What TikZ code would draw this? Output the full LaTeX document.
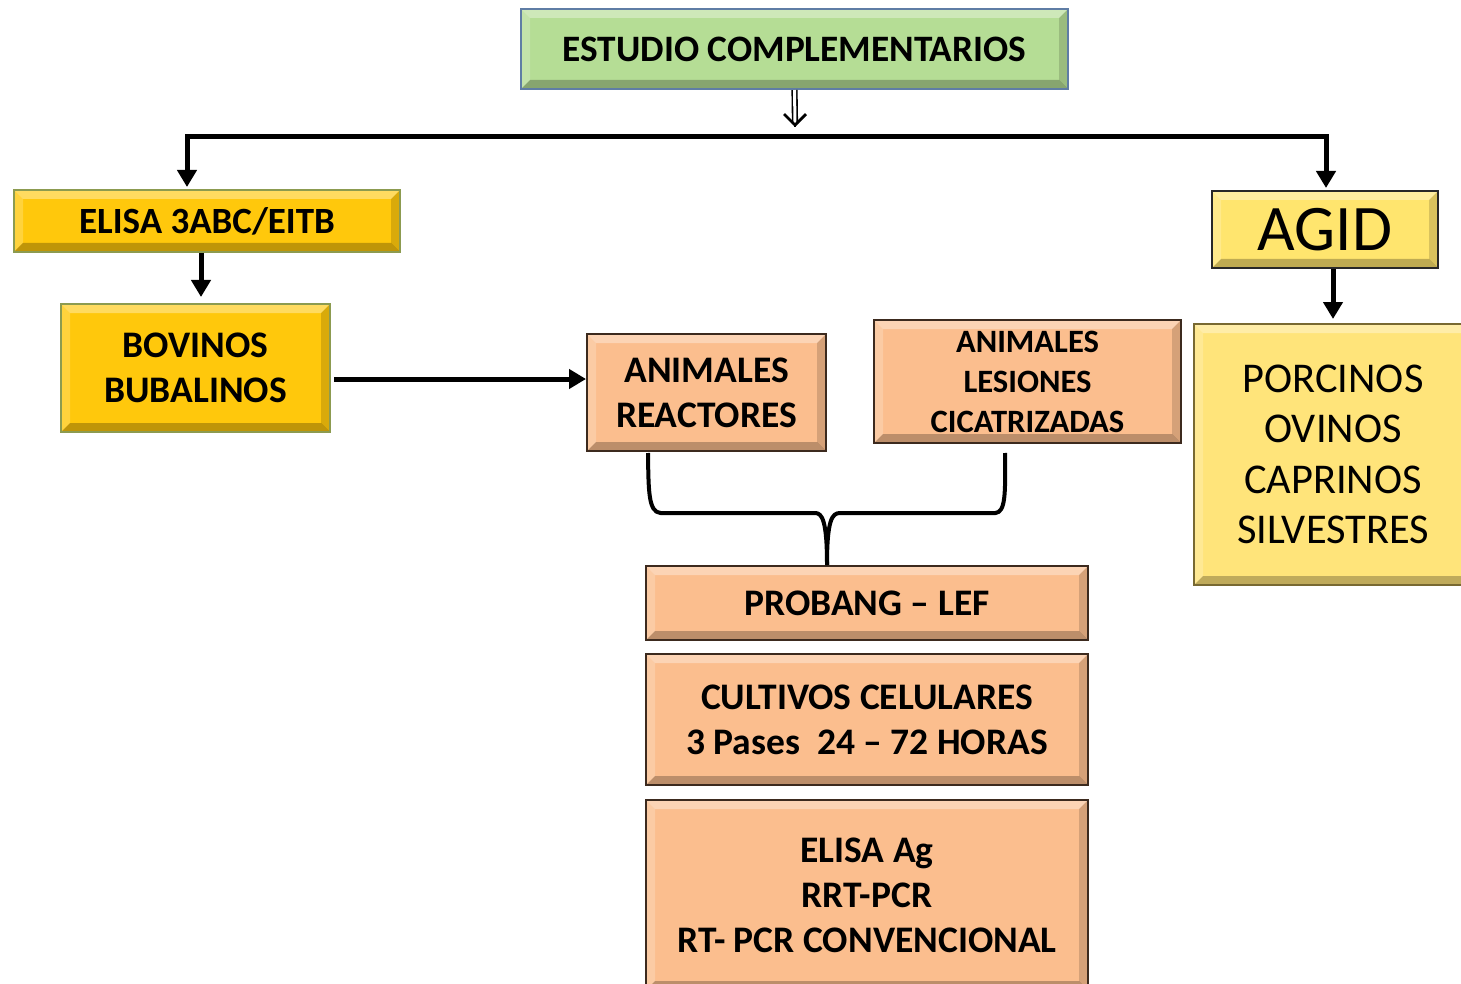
\documentclass[tikz,border=0pt]{standalone}
\usepackage{fontspec}
\setmainfont{Carlito}
\usetikzlibrary{arrows.meta,calc}
\definecolor{greenfill}{RGB}{181,221,149}
\definecolor{greenborder}{RGB}{95,125,165}
\definecolor{goldfill}{RGB}{255,200,12}
\definecolor{goldborder}{RGB}{140,155,80}
\definecolor{peachfill}{RGB}{251,190,142}
\definecolor{peachborder}{RGB}{60,42,30}
\definecolor{agidfill}{RGB}{255,229,110}
\definecolor{agidborder}{RGB}{40,40,40}
\definecolor{lightyellow}{RGB}{255,228,122}
\definecolor{lyborder}{RGB}{120,105,50}
\tikzset{
  bevel/.style={path picture={
    \coordinate (bSW) at (path picture bounding box.south west);
    \coordinate (bNE) at (path picture bounding box.north east);
    \coordinate (bNW) at (path picture bounding box.north west);
    \coordinate (bSE) at (path picture bounding box.south east);
    \fill[white,opacity=0.35] (bNW) -- (bNE) -- ([shift={(-9,-9)}]bNE) -- ([shift={(9,-9)}]bNW) -- cycle;
    \fill[white,opacity=0.2] (bNW) -- (bSW) -- ([shift={(9,9)}]bSW) -- ([shift={(9,-9)}]bNW) -- cycle;
    \fill[black,opacity=0.25] (bSW) -- (bSE) -- ([shift={(-9,9)}]bSE) -- ([shift={(9,9)}]bSW) -- cycle;
    \fill[black,opacity=0.15] (bSE) -- (bNE) -- ([shift={(-9,-9)}]bNE) -- ([shift={(-9,9)}]bSE) -- cycle;
  }},
  box/.style={rectangle, inner sep=0pt, align=center, line width=2pt, bevel},
  greenbox/.style={box, fill=greenfill, draw=greenborder},
  goldbox/.style={box, fill=goldfill, draw=goldborder},
  peachbox/.style={box, fill=peachfill, draw=peachborder},
  agidbox/.style={box, fill=agidfill, draw=agidborder},
  lybox/.style={box, fill=lightyellow, draw=lyborder},
  conn/.style={line width=5pt, draw=black},
  arr/.style={conn, -{Triangle[width=19pt,length=17pt]}},
  bigtxt/.style={font=\fontsize{37.5}{45}\selectfont\bfseries},
}
\begin{document}
\begin{tikzpicture}[x=1pt,y=1pt]
\useasboundingbox (0,0) rectangle (1461,-984);
\clip (0,0) rectangle (1461,-984);

\node[greenbox, minimum width=547, minimum height=80, font=\fontsize{37.3}{40}\selectfont\bfseries] (estudio) at (794.5,-49) {ESTUDIO COMPLEMENTARIOS};
\node[goldbox, minimum width=386, minimum height=62, font=\fontsize{37}{40}\selectfont\bfseries] (elisa) at (207,-221) {ELISA 3ABC/EITB};
\node[goldbox, minimum width=269, minimum height=128, bigtxt] (bov) at (195.5,-368) {BOVINOS\\BUBALINOS};
\node[peachbox, minimum width=239, minimum height=117, bigtxt] (reac) at (706.5,-392.5) {ANIMALES\\REACTORES};
\node[peachbox, minimum width=307, minimum height=123, font=\fontsize{32.6}{40}\selectfont\bfseries] (les) at (1027.5,-381.5) {ANIMALES\\LESIONES\\CICATRIZADAS};
\node[peachbox, minimum width=442, minimum height=74, bigtxt] (probang) at (867,-603) {PROBANG -- LEF};
\node[peachbox, minimum width=442, minimum height=131, bigtxt] (cult) at (867,-719.5) {CULTIVOS CELULARES\\3 Pases~~24 -- 72 HORAS};
\node[peachbox, minimum width=442, minimum height=190, bigtxt] (elag) at (867,-895) {ELISA Ag\\RRT-PCR\\RT- PCR CONVENCIONAL};
\node[agidbox, minimum width=226, minimum height=77, font=\fontsize{65}{70}\selectfont] (agid) at (1325,-229.5) {AGID};
\node[lybox, minimum width=278, minimum height=261, font=\fontsize{42.4}{50.5}\selectfont] (porc) at (1333,-454.5) {PORCINOS\\OVINOS\\CAPRINOS\\SILVESTRES};

% connectors
\coordinate (lcorner) at (187,-137);
\coordinate (rcorner) at (1326,-137);
\coordinate (dtip) at (795,-127);
\draw[line width=1.6pt, double distance=3pt] (estudio.south) -- ([yshift=3]dtip);
\draw[line width=2.8pt, -{Straight Barb[length=11pt,width=22pt]}] ([yshift=0.2]dtip) -- (dtip);
\draw[conn] (lcorner) -- (rcorner);
\draw[arr] ([yshift=2.5]lcorner) -- ([yshift=2]lcorner |- elisa.north);
\draw[arr] ([yshift=2.5]rcorner) -- ([yshift=2]rcorner |- agid.north);
\draw[arr] ([xshift=-6]elisa.south) -- ([xshift=-6,yshift=6]elisa.south |- bov.north);
\draw[arr] ([xshift=3]bov.east |- 0,-379) -- (reac.west |- 0,-379);
\draw[arr] ([xshift=8]agid.south) -- ([xshift=8,yshift=4]agid.south |- porc.north);

% brace
\draw[line width=4pt, line join=round]
  ([xshift=-58.5,yshift=-1]reac.south) .. controls ([xshift=-58,yshift=-40]reac.south) and ([xshift=-58,yshift=-60]reac.south) .. ([xshift=-46,yshift=-61]reac.south)
  -- (815,-513) .. controls (822,-513) and (827,-520) .. ([xshift=-40]probang.north);
\draw[line width=4pt, line join=round]
  ([xshift=-22.5,yshift=-9]les.south) .. controls ([xshift=-22,yshift=-50]les.south) and ([xshift=-22,yshift=-68]les.south) .. ([xshift=-32,yshift=-69]les.south)
  -- (840,-513) .. controls (832,-513) and (827,-520) .. ([xshift=-40]probang.north);
\end{tikzpicture}
\end{document}
